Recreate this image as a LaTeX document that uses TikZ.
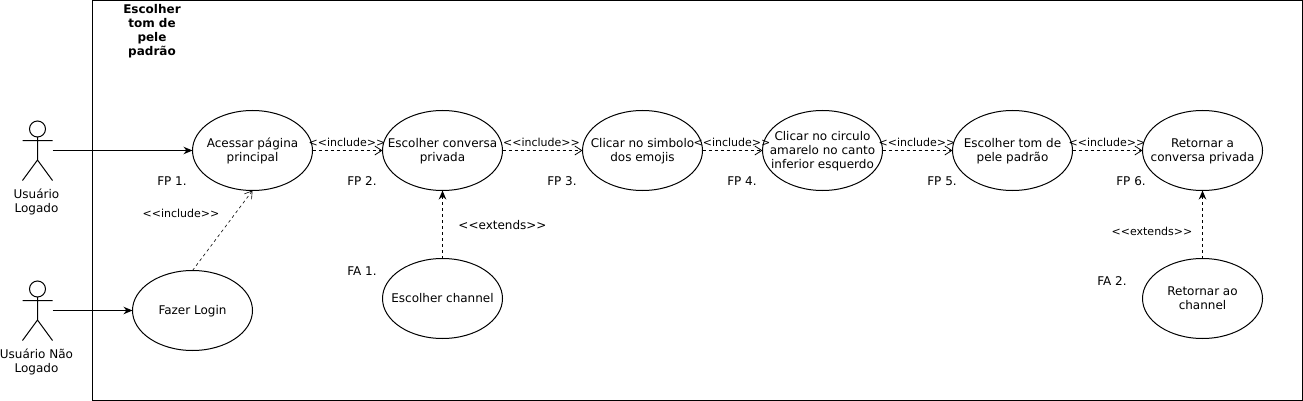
\documentclass[tikz,border=0pt]{standalone}
\usepackage{fontspec}
\setmainfont{DejaVu Sans}
\usetikzlibrary{shapes.geometric,arrows.meta}
\newcommand{\uctext}[1]{\makebox[0pt][c]{\smash{\raisebox{-4.4pt}{\begin{tabular}{@{}c@{}}#1\end{tabular}}}}}
\newcommand{\incl}{<{}<include>{}>}
\newcommand{\extd}{<{}<extends>{}>}
\tikzset{
  usecase/.style={draw=black,line width=1pt,ellipse,minimum width=120pt,minimum height=80pt,inner sep=0pt,outer sep=0pt,font=\fontsize{12}{14}\selectfont},
  lbl/.style={inner sep=0pt,align=center,font=\fontsize{12}{14}\selectfont},
  small/.style={inner sep=0pt,align=center,font=\fontsize{11}{13}\selectfont},
  stick/.style={draw=black,line width=1pt},
  solidarrow/.style={draw=black,line width=1pt,-{Stealth[length=9pt,width=7.5pt]}},
  openarrow/.style={draw=black,line width=1pt,dash pattern=on 3pt off 3pt,-{Straight Barb[length=7pt,width=9pt,line width=0.8pt]}},
  extarrow/.style={draw=black,line width=1pt,dash pattern=on 3pt off 3pt,-{Stealth[length=9pt,width=7.5pt]}}
}
\begin{document}
\begin{tikzpicture}[x=1pt,y=-1pt]
\useasboundingbox (0,0) rectangle (1303,401);
\node[draw=black,line width=1pt,inner sep=0pt,outer sep=0pt,minimum width=1210pt,minimum height=400pt] (frame) at (697.5,200.5) {};
\node[lbl,font=\fontsize{12}{14}\bfseries\selectfont] (title) at (152,31) {Escolher\\tom de\\pele\\padrão};

% actors
\draw[stick] (37.5,129) circle (8pt);
\draw[stick] (37.5,137) -- (37.5,160) (22.5,140.5) -- (52.5,140.5) (22.5,180.5) -- (37.5,160) -- (52.5,180.5);
\draw[stick] (37.5,289) circle (8pt);
\draw[stick] (37.5,297) -- (37.5,320) (22.5,300.5) -- (52.5,300.5) (22.5,340.5) -- (37.5,320) -- (52.5,340.5);
\coordinate (a1) at (52.5,150.5);
\coordinate (a2) at (52.5,310.5);
\node[lbl] (a1t) at (36.5,201.5) {Usuário\\Logado};
\node[lbl] (a2t) at (36.5,361.5) {Usuário Não\\Logado};

% use cases
\node[usecase] (u1) at (252.5,150.5) {\uctext{Acessar página\\principal}};
\node[usecase] (u2) at (442.5,150.5) {\uctext{Escolher conversa\\privada}};
\node[usecase] (u3) at (642.5,150.5) {\uctext{Clicar no simbolo\\dos emojis}};
\node[usecase] (u4) at (822.5,150.5) {\uctext{Clicar no circulo\\amarelo no canto\\inferior esquerdo}};
\node[usecase] (u5) at (1012.5,150.5) {\uctext{Escolher tom de\\pele padrão}};
\node[usecase] (u6) at (1202.5,150.5) {\uctext{Retornar a\\conversa privada}};
\node[usecase] (login) at (192.5,310.5) {\uctext{Fazer Login}};
\node[usecase] (chan) at (442.5,298.5) {\uctext{Escolher channel}};
\node[usecase] (ret) at (1202.5,298.5) {\uctext{Retornar ao\\channel}};

% connectors
\draw[solidarrow] (a1) -- (u1.west);
\draw[solidarrow] (a2) -- (login.west);
\draw[openarrow] (u1.east) -- (u2.west);
\draw[openarrow] (u2.east) -- (u3.west);
\draw[openarrow] (u3.east) -- (u4.west);
\draw[openarrow] (u4.east) -- (u5.west);
\draw[openarrow] (u5.east) -- (u6.west);
\draw[draw=black,line width=0.6pt,dash pattern=on 3pt off 3pt,-{Straight Barb[length=7pt,width=9pt,line width=0.6pt]}] (login.north) -- (u1.south);
\draw[extarrow] (chan.north) -- (u2.south);
\draw[extarrow] (ret.north) -- (u6.south);

% labels
\node[small] (i1) at (347,142.5) {\incl};
\node[small] (i2) at (541.5,142.5) {\incl};
\node[small] (i3) at (732,142.5) {\incl};
\node[small] (i4) at (917,142.5) {\incl};
\node[small] (i5) at (1107,142.5) {\incl};
\node[small] (i6) at (181,213.5) {\incl};
\node[lbl] (e1) at (502.5,225) {\extd};
\node[small] (e2) at (1152,231.5) {\extd};
\node[lbl] (f1) at (172,181) {FP 1.};
\node[lbl] (f2) at (362,181) {FP 2.};
\node[lbl] (f3) at (562,181) {FP 3.};
\node[lbl] (f4) at (742,181) {FP 4.};
\node[lbl] (f5) at (942,181) {FP 5.};
\node[lbl] (f6) at (1131,181) {FP 6.};
\node[lbl] (fa1) at (362,271) {FA 1.};
\node[lbl] (fa2) at (1112,281) {FA 2.};
\end{tikzpicture}
\end{document}
